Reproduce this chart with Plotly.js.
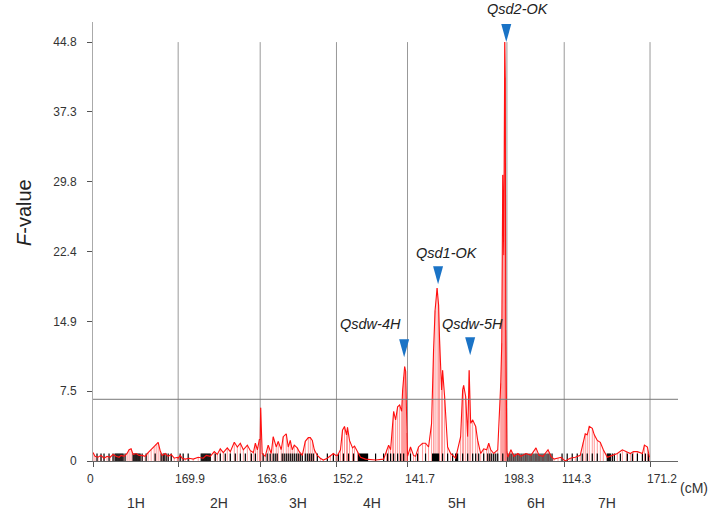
<!DOCTYPE html>
<html>
<head>
<meta charset="utf-8">
<script src="https://cdn.plot.ly/plotly-3.0.1.min.js"></script>
<style>html,body{margin:0;padding:0;background:#fff;}#chart{width:712px;height:511px;}</style>
</head>
<body>
<div id="chart"></div>
<script>
// ---------- data ----------
const chromNames = ['1H','2H','3H','4H','5H','6H','7H'];
const chromLengths = [169.9,163.6,152.2,141.7,198.3,114.3,171.2];
const xTickText = ['0','169.9','163.6','152.2','141.7','198.3','114.3','171.2'];
const yTickVals = [0,7.47,14.93,22.4,29.87,37.33,44.8];
const yTickText = ['0','7.5','14.9','22.4','29.8','37.3','44.8'];
const threshold = 6.6;

// F-value scans per chromosome (cM within chromosome, F)
const pos1H = [0,4,10,16,22,28,34,40,46,52,56,62,68,72,76,80,86,92,98,104,110,116,122,126,130,134,138,144,150,156,162,168];
const val1H = [0.9,0.5,0.4,0.6,0.3,0.5,0.4,0.7,0.5,0.4,0.6,0.5,0.8,1.2,1.3,0.7,0.8,0.6,0.6,0.5,0.9,1.2,1.5,1.8,2.0,1.1,0.6,0.8,0.5,0.7,0.3,0.4];
const pos2H = [0,4,8,14,22,30,40,50,56,64,72,78,84,90,98,104,112,118,124,130,138,144,150,154,158,162];
const val2H = [0.3,0.6,0.3,0.2,0.3,0.2,0.4,0.3,0.6,0.5,1.0,0.7,1.3,0.9,1.4,1.0,2.0,1.5,1.9,1.2,1.7,1.1,0.9,1.9,1.2,2.3];
const pos3H = [0,1,4,10,16,22,26,32,36,42,46,52,56,60,64,68,74,78,84,90,96,100,104,108,114,120,126,134,140,146,151];
const val3H = [2.3,5.7,0.8,0.5,1.7,0.8,2.6,1.5,2.1,1.2,2.6,2.9,1.5,2.2,1.2,1.7,1.4,1.0,0.6,2.1,2.5,2.5,2.2,1.2,0.6,0.3,0.1,0.3,0.6,0.8,0.6];
const pos4H = [2,8,12,16,20,22,26,32,36,42,48,58,78,94,100,104,108,112,114,118,122,126,130,132,134,136,138,140,141.7];
const val4H = [0.6,1.2,3.3,3.7,2.8,3.6,2.2,1.4,1.6,1.0,0.4,0.2,0.1,0.2,1.2,1.7,1.2,4.0,5.3,4.4,5.8,6.0,5.3,7.6,9.0,10.1,9.6,3.0,0.8];
const pos5H = [0,6,12,16,22,30,36,42,48,52,55,59,62,64,68,70,74,80,86,96,106,110,112,116,120,123,126,130,136,140,146,152,158,162,166,172,180,186,188,190,192,194,195,196,198.3];
const val5H = [0.5,1.5,0.6,0.5,1.5,1.9,1.9,1.5,4.0,11.9,16.1,18.5,16.7,12.9,7.6,9.7,6.9,1.5,0.8,0.3,2.6,7.6,8.1,6.9,2.6,9.7,4.0,4.4,3.7,2.2,0.8,1.3,1.2,1.9,1.2,0.8,1.2,8.3,12.6,30.6,22.0,44.8,41.0,14.0,1.0];
const pos6H = [2,8,14,22,28,38,48,58,64,72,82,88,94,102,108,114.3];
const val6H = [0.4,1.2,0.5,0.8,0.5,0.8,0.6,1.4,0.6,0.5,1.2,0.5,0.2,0.3,0.4,0.1];
const pos7H = [2,12,22,32,38,42,46,50,56,60,66,72,78,86,96,106,116,124,132,138,146,156,160,166,170];
const val7H = [0.0,0.3,0.4,0.6,2.0,2.9,2.8,3.7,3.5,2.8,2.2,2.0,1.2,0.4,0.6,0.8,1.2,1.0,0.8,1.0,1.0,0.8,1.7,1.5,0.4];

// marker positions (cM within chromosome)
const mk1H = [8,16,22,32,40,44,46,48,50,52,54,56,58,60,64,80,82,84,86,88,90,92,94,98,106,124,136,140,142,146,150,156];
const mk2H = [4,10,20,46,48,50,52,54,56,58,60,62,64,74,84,94,104,114,124,134,146,154];
const mk3H = [6,14,20,26,30,34,44,48,52,56,60,64,68,72,76,80,84,90,94,98,102,106,114,134,146];
const mk4H = [4,14,24,34,44,46,48,50,52,54,56,58,60,62,78,94,102,108,114,122,128,134];
const mk5H = [6,20,36,50,52,54,56,58,60,62,70,80,90,96,98,100,110,120,130,136,142,152,160,164,168,172,176,180,190];
const mk6H = [2,6,10,14,18,22,26,30,34,38,42,46,50,54,58,62,66,70,74,78,82,86,90,110];
const mk7H = [6,16,26,36,46,56,66,86,88,90,92,96,100,112,126,136,146,156,162,168];

// QTL annotations
const qtlNames = ['Qsd2-OK','Qsd1-OK','Qsdw-4H','Qsdw-5H'];
const qtlChrom = [4,4,3,4];
const qtlPos = [197,61,135,125];
const qtlTip = [44.8,18.9,11.1,11.3];
const qtlTextShiftX = [12,9,-34,2];
const qtlTextShiftY = [33,31,33,31];

// ---------- build ----------
const posAll = [pos1H,pos2H,pos3H,pos4H,pos5H,pos6H,pos7H];
const valAll = [val1H,val2H,val3H,val4H,val5H,val6H,val7H];
const mkAll = [mk1H,mk2H,mk3H,mk4H,mk5H,mk6H,mk7H];
const offsets = [0];
for (let i = 0; i < chromLengths.length; i++) offsets.push(offsets[i] + chromLengths[i]);
const xMax = 1167;

const curveX = [], curveY = [], dropX = [], dropY = [], rugX = [], rugY = [];
for (let c = 0; c < 7; c++) {
  for (let i = 0; i < posAll[c].length; i++) {
    const x = offsets[c] + posAll[c][i];
    curveX.push(x); curveY.push(valAll[c][i]);
    dropX.push(x, x, null); dropY.push(0, valAll[c][i], null);
  }
  for (let i = 0; i < mkAll[c].length; i++) {
    const x = offsets[c] + mkAll[c][i];
    rugX.push(x, x, null); rugY.push(0, 0.8, null);
  }
}

const font = 'Arial, "Liberation Sans", sans-serif';
const traces = [
  {x: dropX, y: dropY, mode: 'lines', line: {color: 'rgba(255,0,0,0.4)', width: 1}, hoverinfo: 'skip', showlegend: false},
  {x: rugX, y: rugY, mode: 'lines', line: {color: '#000', width: 1.2}, hoverinfo: 'skip', showlegend: false},
  {x: curveX, y: curveY, mode: 'lines', line: {color: '#ff1010', width: 1.1}, showlegend: false}
];

const shapes = [];
for (let i = 1; i < offsets.length; i++) {
  shapes.push({type: 'line', xref: 'x', yref: 'y', x0: offsets[i], x1: offsets[i], y0: 0, y1: yTickVals[yTickVals.length-1], line: {color: '#999', width: 1}, layer: 'below'});
}
shapes.push({type: 'line', xref: 'paper', yref: 'y', x0: 0, x1: 1, y0: threshold, y1: threshold, line: {color: '#777', width: 1}});
const annotations = [];
for (let q = 0; q < qtlNames.length; q++) {
  const x = offsets[qtlChrom[q]] + qtlPos[q];
  shapes.push({type: 'path', xref: 'x', yref: 'y', xsizemode: 'pixel', ysizemode: 'pixel', xanchor: x, yanchor: qtlTip[q],
    path: 'M -5 18 L 5 18 L 0 0 Z', fillcolor: '#1a73c6', line: {width: 0}});
  annotations.push({x: x, y: qtlTip[q], xref: 'x', yref: 'y', text: '<i>' + qtlNames[q] + '</i>', showarrow: false,
    xshift: qtlTextShiftX[q], yshift: qtlTextShiftY[q], font: {family: font, size: 14.5, color: '#222'}});
}
for (let i = 0; i < offsets.length; i++) {
  annotations.push({x: offsets[i], y: 0, xref: 'x', yref: 'paper', text: xTickText[i], showarrow: false,
    xshift: i === 0 ? -3 : 12, yshift: -18, yanchor: 'middle', font: {family: font, size: 12, color: '#333'}});
}
for (let c = 0; c < chromNames.length; c++) {
  annotations.push({x: offsets[c] + chromLengths[c]/2, y: 0, xref: 'x', yref: 'paper', text: chromNames[c], showarrow: false,
    yshift: -42, yanchor: 'middle', font: {family: font, size: 14, color: '#333'}});
}
annotations.push({x: 1, y: 0, xref: 'paper', yref: 'paper', text: '(cM)', showarrow: false, xanchor: 'left', yanchor: 'middle',
  yshift: -27, font: {family: font, size: 14, color: '#333'}});
annotations.push({x: 0, y: 0.565, xref: 'paper', yref: 'paper', text: '<i>F</i>-value', showarrow: false, textangle: -90,
  xshift: -82, font: {family: font, size: 20, color: '#222'}});

const layout = {
  width: 712, height: 511,
  margin: {l: 93, r: 34, t: 22, b: 50},
  paper_bgcolor: '#fff', plot_bgcolor: '#fff',
  showlegend: false,
  xaxis: {range: [0, xMax], showgrid: false, zeroline: false, showline: true, linecolor: '#666', linewidth: 1,
    tickvals: offsets, ticktext: xTickText, showticklabels: false, ticks: 'outside', ticklen: 5, tickcolor: '#555'},
  yaxis: {range: [0, 46.95], showgrid: false, zeroline: false, showline: true, linecolor: '#aaa', linewidth: 1,
    tickvals: yTickVals, ticktext: yTickText, ticks: 'outside', ticklen: 5, tickcolor: '#555',
    ticklabelstandoff: 8, tickfont: {family: font, size: 12, color: '#333'}},
  shapes: shapes,
  annotations: annotations
};
Plotly.newPlot('chart', traces, layout, {displayModeBar: false, staticPlot: true});
</script>
</body>
</html>
